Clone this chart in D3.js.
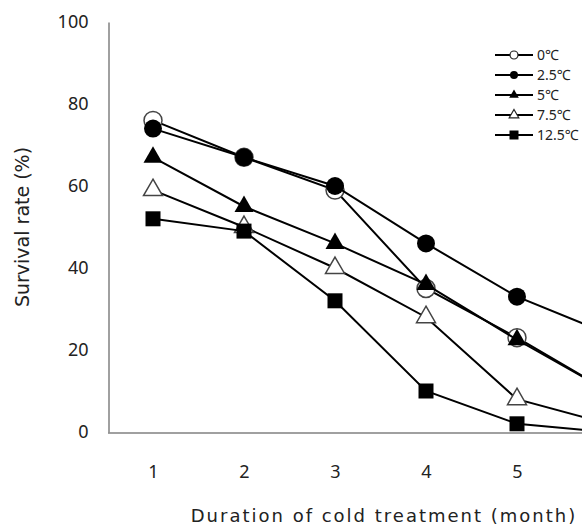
<!DOCTYPE html>
<html>
<head>
<meta charset="utf-8">
<script src="https://cdn.jsdelivr.net/npm/d3@7"></script>
<style>
  body { margin: 0; background: #fff; }
  svg { display: block; overflow: hidden; }
</style>
</head>
<body>
<svg width="582" height="529"></svg>
<script>
// months on the x axis (6th month is cut off by the picture edge)
var months = [1, 2, 3, 4, 5, 6];
var xTicks = [1, 2, 3, 4, 5];
var yTicks = [0, 20, 40, 60, 80, 100];

// survival rate (%) per temperature
var names = ["0℃", "2.5℃", "5℃", "7.5℃", "12.5℃"];
var s0 = [76, 67, 59, 35, 23, 10];
var s25 = [74, 67, 60, 46, 33, 24];
var s5 = [67, 55, 46, 36, 22.5, 10];
var s75 = [59, 50, 40, 28, 8, 2];
var s125 = [52, 49, 32, 10, 2, 0];

var shapes = ["circle", "circle", "triangle", "triangle", "square"];
var filled = [false, true, true, false, true];

function createGraph() {
	var svg = d3.select("svg");
	var font = "'Noto Sans', 'DejaVu Sans', sans-serif";
	var titleFont = "'DejaVu Sans', sans-serif";

	// one unit = 91px, x axis starts half a unit before month 1
	var x = d3.scaleLinear().domain([0.5, 6.5]).range([107.5, 107.5 + 6 * 91]);
	var y = d3.scaleLinear().domain([0, 100]).range([432, 22]);

	var series = [s0, s25, s5, s75, s125].map(function(v, i) {
		return { name: names[i], shape: shapes[i], filled: filled[i],
			values: v.map(function(d, j) { return { m: months[j], v: d }; }) };
	});

	// y axis
	var yAxis = svg.append("g")
		.attr("transform", "translate(108.5,0)")
		.call(d3.axisLeft(y).tickValues(yTicks).tickFormat(d3.format("d"))
			.tickSize(0).tickSizeOuter(0).tickPadding(20));
	yAxis.select(".domain").attr("stroke", "#808080").attr("stroke-width", 1.5);
	yAxis.selectAll("text").attr("font-family", font).attr("font-size", 18).attr("fill", "#222");

	// x axis
	var xAxis = svg.append("g")
		.attr("transform", "translate(0,432.5)")
		.call(d3.axisBottom(x).tickValues(xTicks).tickFormat(d3.format("d"))
			.tickSize(0).tickSizeOuter(0).tickPadding(33));
	xAxis.select(".domain").attr("stroke", "#808080").attr("stroke-width", 1.5);
	xAxis.selectAll("text").attr("font-family", font).attr("font-size", 18).attr("fill", "#222");

	// axis titles
	svg.append("text")
		.attr("transform", "translate(29,227) rotate(-90)")
		.attr("text-anchor", "middle")
		.attr("font-family", titleFont).attr("font-size", 19).attr("fill", "#222")
		.text("Survival rate (%)");
	svg.append("text")
		.attr("x", 384).attr("y", 522)
		.attr("text-anchor", "middle")
		.attr("font-family", titleFont).attr("font-size", 18).attr("fill", "#222")
		.attr("letter-spacing", 2)
		.text("Duration of cold treatment (month)");

	var symbolType = { circle: d3.symbolCircle, triangle: d3.symbolTriangle, square: d3.symbolSquare };
	var bigSize = { circle: 254, triangle: 156, square: 225 };
	var smallSize = { circle: 50, triangle: 40, square: 81 };

	var line = d3.line()
		.x(function(d) { return x(d.m); })
		.y(function(d) { return y(d.v); });

	series.forEach(function(s) {
		var g = svg.append("g");
		g.append("path")
			.attr("d", line(s.values))
			.attr("fill", "none")
			.attr("stroke", "#000")
			.attr("stroke-width", 2);
		g.selectAll("path.pt")
			.data(s.values).enter().append("path")
			.attr("class", "pt")
			.attr("transform", function(d) { return "translate(" + x(d.m) + "," + y(d.v) + ")"; })
			.attr("d", d3.symbol().type(symbolType[s.shape]).size(bigSize[s.shape]))
			.attr("fill", s.filled ? "#000" : "#fff")
			.attr("stroke", s.filled ? "none" : "#444")
			.attr("stroke-width", 1.5);
	});

	// legend
	var legend = svg.append("g").attr("transform", "translate(495,55)");
	series.forEach(function(s, i) {
		var row = legend.append("g").attr("transform", "translate(0," + i * 20 + ")");
		row.append("line")
			.attr("x1", 0).attr("x2", 38)
			.attr("stroke", "#000").attr("stroke-width", 2);
		row.append("path")
			.attr("transform", "translate(19,0)")
			.attr("d", d3.symbol().type(symbolType[s.shape]).size(smallSize[s.shape]))
			.attr("fill", s.filled ? "#000" : "#fff")
			.attr("stroke", s.filled ? "none" : "#222")
			.attr("stroke-width", 1.2);
		row.append("text")
			.attr("x", 42).attr("dy", "0.35em")
			.attr("font-family", font).attr("font-size", 14).attr("fill", "#222")
			.text(s.name);
	});
}

createGraph();
</script>
</body>
</html>
